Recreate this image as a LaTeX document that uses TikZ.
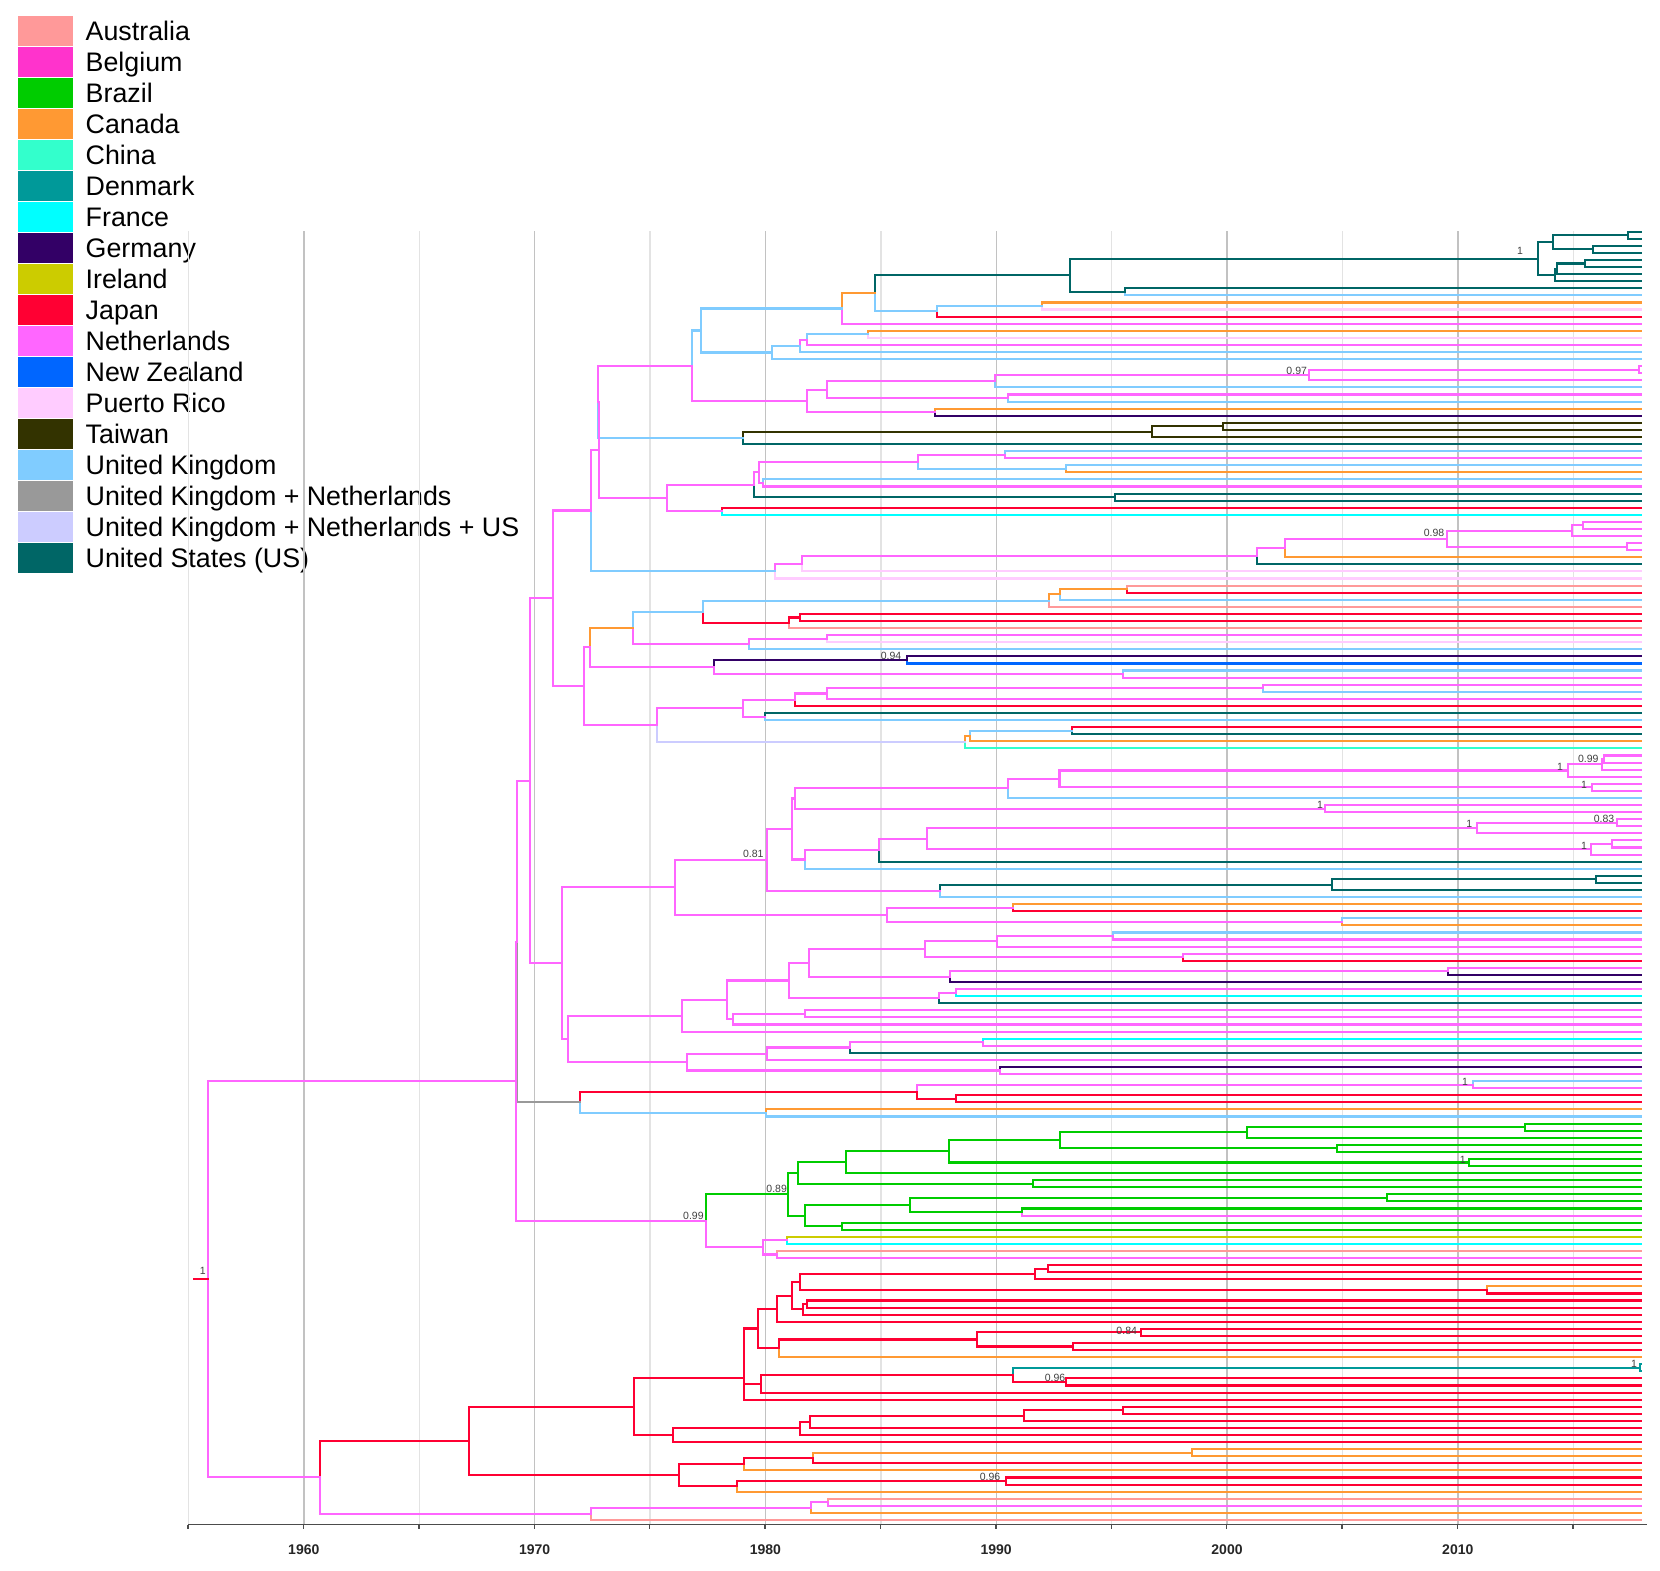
\documentclass[tikz,border=0pt]{standalone}
\usepackage{fontspec}
\setmainfont{Liberation Sans}
\definecolor{cAU}{RGB}{255,153,153}
\definecolor{cBE}{RGB}{255,51,204}
\definecolor{cBR}{RGB}{0,204,0}
\definecolor{cCA}{RGB}{255,153,51}
\definecolor{cCN}{RGB}{51,255,204}
\definecolor{cDK}{RGB}{0,153,153}
\definecolor{cFR}{RGB}{0,255,255}
\definecolor{cDE}{RGB}{51,0,102}
\definecolor{cIE}{RGB}{204,204,0}
\definecolor{cJP}{RGB}{255,0,51}
\definecolor{cNL}{RGB}{255,102,255}
\definecolor{cNZ}{RGB}{0,102,255}
\definecolor{cPR}{RGB}{255,204,255}
\definecolor{cTW}{RGB}{51,51,0}
\definecolor{cUK}{RGB}{128,204,255}
\definecolor{cUN}{RGB}{153,153,153}
\definecolor{cUNU}{RGB}{204,204,255}
\definecolor{cUS}{RGB}{0,102,102}
\tikzset{
  br/.style={line width=2.1pt,line cap=rect,line join=miter},
  gridd/.style={draw=black!24,line width=1.4pt},
  gridh/.style={draw=black!11,line width=1.4pt},
  supl/.style={font=\fontsize{10.5}{12}\selectfont,text=black!75,inner sep=0pt},
  legtext/.style={font=\fontsize{26.8}{30}\selectfont,inner sep=0pt,anchor=base west},
  axlab/.style={font=\bfseries\fontsize{14}{16}\selectfont,text=black!85,inner sep=0pt},
  swatch/.style={draw=none}
}
\newcommand\tipx{57.93}
\newcommand\Tip[3]{%
  \expandafter\xdef\csname TY#1\endcsname{#2}%
  \expandafter\xdef\csname TC#1\endcsname{#3}%
  \coordinate (#1) at (\tipx,#2);}
\newcommand\Nd[5]{%
  \edef\nYa{\csname TY#4\endcsname}%
  \edef\nYb{\csname TY#5\endcsname}%
  \pgfmathsetmacro\nYm{(\nYa+\nYb)/2}%
  \pgfmathsetmacro\nXm{#2-1960}%
  \expandafter\xdef\csname TY#1\endcsname{\nYm}%
  \expandafter\xdef\csname TC#1\endcsname{#3}%
  \edef\nCa{\csname TC#4\endcsname}%
  \edef\nCb{\csname TC#5\endcsname}%
  \coordinate (#1) at (\nXm,\nYm);
  \draw[br,draw=\nCa] (#1) |- (#4);
  \draw[br,draw=\nCb] (#1) |- (#5);}
\begin{document}
\begin{tikzpicture}[x=1pt,y=-1pt]
\useasboundingbox (0,0) rectangle (1660,1571);
% legend
\foreach \c/\t [count=\i from 0] in {cAU/Australia,cBE/Belgium,cBR/Brazil,cCA/Canada,cCN/China,cDK/Denmark,cFR/France,cDE/Germany,cIE/Ireland,cJP/Japan,cNL/Netherlands,cNZ/New Zealand,cPR/Puerto Rico,cTW/Taiwan,cUK/United Kingdom,cUN/United Kingdom + Netherlands,cUNU/United Kingdom + Netherlands + US,cUS/United States (US)}{
  \fill[swatch,\c] (18,{16+31.01*\i}) rectangle (73,{45.6+31.01*\i});
  \node[legtext] (leg\i) at (85.5,{40.1+31.01*\i}) {\t};
}
% axis
\draw[line width=1.8pt,black!70] (188,1524.5) coordinate (axL) -- (1647,1524.5) coordinate (axR);
\foreach \k in {0,...,12}{
  \draw[line width=1.4pt,black!70] ({188+115.4*\k},1524.5) -- ({188+115.4*\k},1529);
}
\foreach \yr [count=\j from 0] in {1960,1970,1980,1990,2000,2010}{
  \node[axlab] (ax\yr) at ({303.8+230.8*\j},1550) {\yr};
}
\begin{scope}[shift={(303.8,231.67)},x=23.08pt,y=-7.0785pt]
\foreach \yr in {1955,1965,1975,1985,1995,2005,2015}{\draw[gridh] ({\yr-1960},-0.05) -- ({\yr-1960},182.55);}
\foreach \yr in {1960,1970,1980,1990,2000,2010}{\draw[gridd] ({\yr-1960},-0.05) -- ({\yr-1960},182.55);}
\foreach \cc [count=\ii from 0] in {US,US,US,US,US,US,US,US,
US,UK,CA,PR,JP,NL,CA,PR,NL,UK,
UK,NL,NL,NL,UK,NL,UK,CA,DE,TW,
TW,TW,US,UK,NL,UK,CA,UK,NL,US,
US,JP,FR,NL,NL,NL,NL,NL,CA,US,
PR,PR,AU,JP,UK,AU,JP,JP,AU,NL,
PR,UK,DE,NZ,UK,NL,NL,UK,NL,JP,
US,UK,JP,US,CA,CN,NL,NL,NL,NL,
NL,NL,UK,NL,NL,NL,NL,NL,NL,NL,
NL,US,UK,US,US,US,UK,CA,JP,UK,
CA,UK,NL,NL,NL,JP,NL,DE,DE,NL,
FR,US,NL,NL,NL,NL,FR,NL,US,NL,
DE,NL,UK,NL,JP,JP,CA,UK,BR,BR,
BR,BR,BR,BR,BR,BR,BR,BR,BR,BR,
BR,NL,BR,BR,IE,FR,AU,NL,JP,JP,
JP,CA,JP,JP,JP,JP,JP,JP,JP,JP,
JP,CA,DK,DK,JP,JP,JP,JP,JP,JP,
JP,JP,JP,JP,CA,CA,JP,CA,JP,JP,
CA,AU,NL,CA,AU}{\Tip{t\ii}{\ii}{c\cc}}
% top clade
\Nd{c01}{2017.39}{cUS}{t0}{t1}
\Nd{c23}{2015.87}{cUS}{t2}{t3}
\Nd{cU}{2014.11}{cUS}{c01}{c23}
\Nd{c45}{2015.51}{cUS}{t4}{t5}
\Nd{c456}{2014.3}{cUS}{c45}{t6}
\Nd{cL}{2014.2}{cUS}{c456}{t7}
\Nd{cl}{2013.49}{cUS}{cU}{cL}
\Nd{n8}{1995.58}{cUS}{t8}{t9}
\Nd{n1140}{1993.2}{cUS}{cl}{n8}
\Nd{n1055}{1991.97}{cUK}{t10}{t11}
\Nd{n740}{1987.42}{cUK}{n1055}{t12}
\Nd{n555}{1984.75}{cCA}{n1140}{n740}
\Nd{n455}{1983.3}{cUK}{n555}{t13}
\Nd{n535}{1984.46}{cUK}{t14}{t15}
\Nd{n350a}{1981.79}{cNL}{n535}{t16}
\Nd{n330a}{1981.5}{cUK}{n350a}{t17}
\Nd{n245}{1980.27}{cUK}{n330a}{t18}
\Nd{n32}{1977.2}{cUK}{n455}{n245}
\Nd{ch1920}{2017.86}{cNL}{t19}{t20}
\Nd{n097}{2003.57}{cNL}{ch1920}{t21}
\Nd{n915}{1989.95}{cNL}{n097}{t22}
\Nd{n955a}{1990.52}{cNL}{t23}{t24}
\Nd{n410a}{1982.66}{cNL}{n915}{n955a}
\Nd{n735}{1987.35}{cNL}{t25}{t26}
\Nd{n350b}{1981.79}{cNL}{n410a}{n735}
\Nd{n5}{1976.81}{cNL}{n32}{n350b}
\Nd{tw1}{1999.84}{cTW}{t27}{t28}
\Nd{tw2}{1996.74}{cTW}{tw1}{t29}
\Nd{n160}{1979.04}{cUK}{tw2}{t30}
\Nd{N1}{1972.76}{cNL}{n5}{n160}
\Nd{n945}{1990.38}{cNL}{t31}{t32}
\Nd{n1128}{1993.02}{cUK}{t33}{t34}
\Nd{n683}{1986.6}{cNL}{n945}{n1128}
\Nd{n220}{1979.9}{cNL}{t35}{t36}
\Nd{n207}{1979.72}{cNL}{n683}{n220}
\Nd{n1275}{1995.15}{cUS}{t37}{t38}
\Nd{n192}{1979.5}{cNL}{n207}{n1275}
\Nd{n95}{1978.1}{cNL}{t39}{t40}
\Nd{n1462}{1975.75}{cNL}{n192}{n95}
\Nd{N2}{1972.78}{cNL}{N1}{n1462}
\Nd{n1210}{2015.44}{cNL}{t41}{t42}
\Nd{n1175}{2014.94}{cNL}{n1210}{t43}
\Nd{n1340}{2017.32}{cNL}{t44}{t45}
\Nd{n098}{2009.52}{cNL}{n1175}{n1340}
\Nd{n315c}{2002.51}{cNL}{n098}{t46}
\Nd{n230c}{2001.29}{cNL}{n315c}{t47}
\Nd{n335}{1981.57}{cNL}{n230c}{t48}
\Nd{n255}{1980.42}{cUK}{n335}{t49}
\Nd{n1232}{1972.43}{cNL}{N2}{n255}
\Nd{n1310}{1995.65}{cCA}{t50}{t51}
\Nd{n1110}{1992.76}{cCA}{n1310}{t52}
\Nd{n1078}{1992.3}{cUK}{n1110}{t53}
\Nd{n330r}{1981.5}{cJP}{t54}{t55}
\Nd{n298r}{1981.04}{cJP}{n330r}{t56}
\Nd{n40}{1977.31}{cUK}{n1078}{n298r}
\Nd{n410b}{1982.66}{cNL}{t57}{t58}
\Nd{n178}{1979.3}{cNL}{n410b}{t59}
\Nd{n1360}{1974.28}{cCA}{n40}{n178}
\Nd{n094}{1986.12}{cDE}{t60}{t61}
\Nd{n1300}{1995.5}{cNL}{t62}{t63}
\Nd{n72}{1977.77}{cNL}{n094}{n1300}
\Nd{n1230}{1972.4}{cNL}{n1360}{n72}
\Nd{n248}{2001.55}{cNL}{t64}{t65}
\Nd{n410c}{1982.66}{cNL}{n248}{t66}
\Nd{n315d}{1981.28}{cNL}{n410c}{t67}
\Nd{n225}{1979.98}{cNL}{t68}{t69}
\Nd{n160b}{1979.04}{cNL}{n315d}{n225}
\Nd{n1145}{1993.27}{cUK}{t70}{t71}
\Nd{n840}{1988.87}{cCA}{n1145}{t72}
\Nd{n825}{1988.65}{cUNU}{n840}{t73}
\Nd{n1430}{1975.29}{cNL}{n160b}{n825}
\Nd{n1212}{1972.14}{cNL}{n1230}{n1430}
\Nd{n1118}{1970.78}{cNL}{n1232}{n1212}
\Nd{n74}{2016.35}{cNL}{t74}{t75}
\Nd{n099}{2016.23}{cNL}{n74}{t76}
\Nd{n1165}{2014.79}{cNL}{n099}{t77}
\Nd{n1235}{2015.8}{cNL}{t78}{t79}
\Nd{n1108}{1992.74}{cNL}{n1165}{n1235}
\Nd{n955b}{1990.52}{cNL}{n1108}{t80}
\Nd{n435}{2004.25}{cNL}{t81}{t82}
\Nd{n315e}{1981.28}{cNL}{n955b}{n435}
\Nd{n083}{2016.88}{cNL}{t83}{t84}
\Nd{n890}{2010.82}{cNL}{n083}{t85}
\Nd{n1295}{2016.67}{cNL}{t86}{t87}
\Nd{n1232b}{2015.76}{cNL}{n1295}{t88}
\Nd{n710}{1986.99}{cNL}{n890}{n1232b}
\Nd{n568}{1984.94}{cNL}{n710}{t89}
\Nd{n345}{1981.72}{cNL}{n568}{t90}
\Nd{n305}{1981.14}{cNL}{n315e}{n345}
\Nd{n1248}{2015.99}{cUS}{t91}{t92}
\Nd{n455b}{2004.54}{cUS}{n1248}{t93}
\Nd{n750}{1987.56}{cNL}{n455b}{t94}
\Nd{n081}{1980.08}{cNL}{n305}{n750}
\Nd{n970a}{1990.74}{cNL}{t95}{t96}
\Nd{n487}{2004.99}{cNL}{t97}{t98}
\Nd{n592}{1985.28}{cNL}{n970a}{n487}
\Nd{n1485}{1976.08}{cNL}{n081}{n592}
\Nd{n1268}{1995.05}{cNL}{t99}{t100}
\Nd{n920}{1990.02}{cNL}{n1268}{t101}
\Nd{n10}{1998.11}{cNL}{t102}{t103}
\Nd{n705}{1986.92}{cNL}{n920}{n10}
\Nd{n803}{2009.56}{cNL}{t104}{t105}
\Nd{n780}{1988.0}{cNL}{n803}{t106}
\Nd{n358}{1981.9}{cNL}{n705}{n780}
\Nd{n797}{1988.24}{cNL}{t107}{t108}
\Nd{n748}{1987.53}{cNL}{n797}{t109}
\Nd{n298}{1981.04}{cNL}{n358}{n748}
\Nd{n345b}{1981.72}{cNL}{t110}{t111}
\Nd{n130}{1978.61}{cNL}{n345b}{t112}
\Nd{n110}{1978.32}{cNL}{n298}{n130}
\Nd{n1505}{1976.37}{cNL}{n110}{t113}
\Nd{n878}{1989.41}{cNL}{t114}{t115}
\Nd{n480}{1983.67}{cNL}{n878}{t116}
\Nd{n232b}{1980.08}{cNL}{n480}{t117}
\Nd{n930}{1990.17}{cNL}{t118}{t119}
\Nd{n1520}{1976.59}{cNL}{n232b}{n930}
\Nd{n1165b}{1971.46}{cNL}{n1505}{n1520}
\Nd{n1145b}{1971.17}{cNL}{n1485}{n1165b}
\Nd{n1050}{1969.8}{cNL}{n1118}{n1145b}
\Nd{n1r}{2010.64}{cNL}{t120}{t121}
\Nd{n798}{1988.26}{cJP}{t122}{t123}
\Nd{nR}{1986.55}{cJP}{n1r}{n798}
\Nd{nLB}{1980.03}{cUK}{t124}{t125}
\Nd{G}{1971.97}{cUN}{nR}{nLB}
\Nd{A}{1969.24}{cNL}{n1050}{G}
% Brazil
\Nd{b1035}{2012.91}{cBR}{t126}{t127}
\Nd{b202}{2000.88}{cBR}{b1035}{t128}
\Nd{b472}{2004.78}{cBR}{t129}{t130}
\Nd{b1110}{1992.76}{cBR}{b202}{b472}
\Nd{b1}{2010.5}{cBR}{t131}{t132}
\Nd{b778}{1987.97}{cBR}{b1110}{b1}
\Nd{b468}{1983.49}{cBR}{b778}{t133}
\Nd{b1030}{1991.61}{cBR}{t134}{t135}
\Nd{b325}{1981.43}{cBR}{b468}{b1030}
\Nd{b620}{2006.92}{cBR}{t136}{t137}
\Nd{b995}{1991.1}{cBR}{t138}{t139}
\Nd{b660}{1986.26}{cBR}{b620}{b995}
\Nd{b455}{1983.3}{cBR}{t140}{t141}
\Nd{b345}{1981.72}{cBR}{b660}{b455}
\Nd{b089}{1980.99}{cBR}{b325}{b345}
\Nd{p290}{1980.92}{cNL}{t142}{t143}
\Nd{p260}{1980.49}{cNL}{t144}{t145}
\Nd{p220}{1979.91}{cNL}{p290}{p260}
\Nd{b099}{1977.43}{cNL}{b089}{p220}
\Nd{B}{1969.2}{cNL}{A}{b099}
% Japan
\Nd{j1075}{1992.26}{cJP}{t146}{t147}
\Nd{j1035}{1991.68}{cJP}{j1075}{t148}
\Nd{j920}{2011.25}{cJP}{t149}{t150}
\Nd{j330}{1981.5}{cJP}{j1035}{j920}
\Nd{j350}{1981.79}{cJP}{t151}{t152}
\Nd{j338}{1981.62}{cJP}{j350}{t153}
\Nd{j305}{1981.14}{cJP}{j330}{j338}
\Nd{j262}{1980.52}{cJP}{j305}{t154}
\Nd{j084}{1996.26}{cJP}{t155}{t156}
\Nd{j1150}{1993.34}{cJP}{t157}{t158}
\Nd{j860}{1989.15}{cJP}{j084}{j1150}
\Nd{j268}{1980.6}{cJP}{j860}{t159}
\Nd{j205}{1979.69}{cJP}{j262}{j268}
\Nd{dk}{2017.9}{cDK}{t160}{t161}
\Nd{j096}{1993.02}{cJP}{t162}{t163}
\Nd{j970}{1990.74}{cJP}{dk}{j096}
\Nd{j213}{1979.81}{cJP}{j970}{t164}
\Nd{jX}{1979.09}{cJP}{j205}{j213}
\Nd{j163}{1979.09}{cJP}{jX}{t165}
\Nd{j1298}{1995.48}{cJP}{t166}{t167}
\Nd{j1003}{1991.22}{cJP}{j1298}{t168}
\Nd{j360}{1981.93}{cJP}{j1003}{t169}
\Nd{j330b}{1981.5}{cJP}{j360}{t170}
\Nd{j1480}{1976.01}{cJP}{j330b}{t171}
\Nd{j1362}{1974.31}{cJP}{j163}{j1480}
\Nd{j35}{1998.47}{cCA}{t172}{t173}
\Nd{j370}{1982.08}{cJP}{j35}{t174}
\Nd{j163b}{1979.09}{cJP}{j370}{t175}
\Nd{j948}{1990.42}{cJP}{t176}{t177}
\Nd{j140}{1978.76}{cJP}{j948}{t178}
\Nd{j1497}{1976.26}{cJP}{j163b}{j140}
\Nd{j868}{1967.17}{cJP}{j1362}{j1497}
\Nd{p415}{1982.73}{cNL}{t179}{t180}
\Nd{p362}{1981.96}{cNL}{p415}{t181}
\Nd{p1232}{1972.43}{cNL}{p362}{t182}
\Nd{n420}{1960.7}{cNL}{j868}{p1232}
\Nd{root}{1955.84}{cNL}{B}{n420}
\coordinate (rstub) at (-4.76,\csname TYroot\endcsname);
\draw[br,draw=cJP] (rstub) -- (root);
\end{scope}
% support labels
\node[supl] (s1) at (1520,251) {1};
\node[supl] (s2) at (1296.7,370.7) {0.97};
\node[supl] (s3) at (1434,532.7) {0.98};
\node[supl] (s4) at (891,655.7) {0.94};
\node[supl] (s5) at (1588.3,759) {0.99};
\node[supl] (s6) at (1560,766.7) {1};
\node[supl] (s7) at (1584,785) {1};
\node[supl] (s8) at (1320,805) {1};
\node[supl] (s9) at (1604,819.3) {0.83};
\node[supl] (s10) at (1469.3,824.3) {1};
\node[supl] (s11) at (1584,846) {1};
\node[supl] (s12) at (753.3,854.3) {0.81};
\node[supl] (s13) at (1465,1082.3) {1};
\node[supl] (s14) at (1462.7,1160) {1};
\node[supl] (s15) at (776.7,1189.3) {0.89};
\node[supl] (s16) at (693.4,1215.8) {0.99};
\node[supl] (s17) at (202.7,1270.7) {1};
\node[supl] (s18) at (1126.7,1330.7) {0.84};
\node[supl] (s19) at (1634,1364) {1};
\node[supl] (s20) at (1055,1377.7) {0.96};
\node[supl] (s21) at (990,1476.7) {0.96};
\end{tikzpicture}
\end{document}
